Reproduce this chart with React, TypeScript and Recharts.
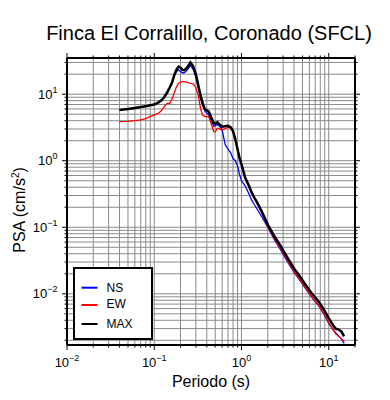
import React from 'react';
import { LineChart, Line, XAxis, YAxis, CartesianGrid, Legend } from 'recharts';

const periods = [0.04, 0.05, 0.06, 0.07, 0.08, 0.09, 0.1, 0.11, 0.12, 0.13, 0.14, 0.15, 0.16, 0.17, 0.18, 0.19, 0.2, 0.21, 0.22, 0.23, 0.24, 0.26, 0.28, 0.3, 0.32, 0.34, 0.36, 0.38, 0.4, 0.42, 0.45, 0.48, 0.5, 0.53, 0.56, 0.6, 0.65, 0.7, 0.75, 0.8, 0.85, 0.9, 0.95, 1.0, 1.1, 1.2, 1.3, 1.4, 1.5, 1.7, 2.0, 2.4, 2.8, 3.0, 3.5, 4.0, 4.5, 5.0, 6.0, 7.0, 7.5, 8.0, 9.0, 10, 11, 12, 13, 14, 15];

const maxValues = [5.8, 6.0, 6.2, 6.4, 6.6, 6.8, 7.0, 7.4, 8.0, 9.0, 10.5, 12.5, 15, 19.5, 23.5, 26, 25, 23.2, 23, 24, 25.5, 30, 26, 20, 13.5, 9.5, 7.2, 6.0, 5.7, 5.5, 4.5, 3.7, 3.6, 3.8, 3.5, 3.25, 3.3, 3.35, 3.2, 2.8, 2.1, 1.5, 1.1, 0.88, 0.56, 0.44, 0.34, 0.28, 0.24, 0.175, 0.11, 0.072, 0.053, 0.045, 0.032, 0.024, 0.0195, 0.016, 0.0113, 0.0088, 0.0079, 0.007, 0.0055, 0.0043, 0.0035, 0.003, 0.0029, 0.0027, 0.0023];

const ewValues = [3.87, 3.9, 4.0, 4.1, 4.3, 4.6, 4.9, 5.1, 5.6, 6.5, 7.3, 7.3, 8.5, 10.5, 13, 14.6, 15.2, 15.5, 15.5, 15.3, 15, 14.6, 14.3, 12.5, 9.5, 6.0, 4.8, 4.6, 4.6, 4.6, 3.6, 2.75, 2.7, 3.1, 3.0, 2.9, 3.0, 3.2, 3.1, 2.7, 2.05, 1.45, 1.07, 0.85, 0.54, 0.42, 0.33, 0.27, 0.23, 0.165, 0.104, 0.066, 0.048, 0.041, 0.029, 0.0215, 0.0175, 0.0143, 0.0101, 0.0078, 0.007, 0.0062, 0.0048, 0.0037, 0.003, 0.0025, 0.0023, 0.0021, 0.0019];

const nsValues = [5.8, 6.0, 6.2, 6.4, 6.6, 6.8, 7.0, 7.4, 8.0, 9.0, 10.5, 12.5, 15, 19, 22, 23, 22, 21, 21, 22, 23.5, 27, 23.5, 18, 12.5, 8.5, 6.8, 5.6, 5.2, 4.9, 4.0, 3.3, 3.35, 3.5, 3.3, 2.9, 1.75, 1.5, 1.33, 1.08, 1.0, 0.84, 0.62, 0.5, 0.42, 0.33, 0.26, 0.22, 0.19, 0.145, 0.1, 0.064, 0.046, 0.039, 0.028, 0.021, 0.017, 0.014, 0.0099, 0.0076, 0.0069, 0.0061, 0.0047, 0.0036, 0.003, 0.0026, 0.0023, 0.0021, 0.0018];

const xTicks = [0.01, 0.02, 0.03, 0.04, 0.05, 0.06, 0.07, 0.08, 0.09, 0.1, 0.2, 0.3, 0.4, 0.5, 0.6, 0.7, 0.8, 0.9, 1, 2, 3, 4, 5, 6, 7, 8, 9, 10, 20];
const yTicks = [0.002, 0.003, 0.004, 0.005, 0.006, 0.007, 0.008, 0.009, 0.01, 0.02, 0.03, 0.04, 0.05, 0.06, 0.07, 0.08, 0.09, 0.1, 0.2, 0.3, 0.4, 0.5, 0.6, 0.7, 0.8, 0.9, 1, 2, 3, 4, 5, 6, 7, 8, 9, 10, 20, 30];
const majorTicks = [0.01, 0.1, 1, 10];
const majorExponents = ['\u22122', '\u22121', '0', '1'];

const seriesNames = ['NS', 'EW', 'MAX'];
const seriesColors = ['#0000ff', '#ff0000', '#000000'];

const data = periods.map((p, i) => ({ period: p, ns: nsValues[i], ew: ewValues[i], max: maxValues[i] }));

const FONT = '"Liberation Sans", Arial, Helvetica, sans-serif';

const majorIndex = (v: number) => majorTicks.findIndex((m) => Math.abs(v / m - 1) < 1e-6);

const TickLabel = ({ x, y, idx, anchor }: any) => (
  <text x={x} y={y} textAnchor={anchor} fontSize={13} fontFamily={FONT} fill="#000">
    <tspan>10</tspan>
    <tspan dy={-6} fontSize={9}>{majorExponents[idx]}</tspan>
  </text>
);

const PLOT_LEFT = 67;
const PLOT_RIGHT = 355;
const PLOT_TOP = 58;
const PLOT_BOTTOM = 345;

const BottomTick = (props: any) => {
  const { x, payload } = props;
  const y = PLOT_BOTTOM;
  const idx = majorIndex(payload.value);
  const len = idx >= 0 ? 5 : 2.5;
  return (
    <g>
      <line x1={x} y1={y} x2={x} y2={y + len} stroke="#000" strokeWidth={1} />
      {idx >= 0 && <TickLabel x={x} y={y + 21.7} idx={idx} anchor="middle" />}
    </g>
  );
};

const TopTick = (props: any) => {
  const { x, payload } = props;
  const y = PLOT_TOP;
  const idx = majorIndex(payload.value);
  const len = idx >= 0 ? 5 : 2.5;
  return <line x1={x} y1={y} x2={x} y2={y - len} stroke="#000" strokeWidth={1} />;
};

const LeftTick = (props: any) => {
  const { y, payload } = props;
  const x = PLOT_LEFT;
  const idx = majorIndex(payload.value);
  const len = idx >= 0 ? 5 : 2.5;
  return (
    <g>
      <line x1={x} y1={y} x2={x - len} y2={y} stroke="#000" strokeWidth={1} />
      {idx >= 0 && <TickLabel x={x - 9.5} y={y + 4.7} idx={idx} anchor="end" />}
    </g>
  );
};

const RightTick = (props: any) => {
  const { y, payload } = props;
  const x = PLOT_RIGHT;
  const idx = majorIndex(payload.value);
  const len = idx >= 0 ? 5 : 2.5;
  return <line x1={x} y1={y} x2={x + len} y2={y} stroke="#000" strokeWidth={1} />;
};

const renderLegend = () => {
  const lineY = [20.7, 38, 57];
  const textY = [25.3, 41.3, 60.7];
  return (
    <svg width={80} height={73} style={{ display: 'block' }}>
      <rect x={1} y={1} width={78} height={71} fill="#fff" stroke="#000" strokeWidth={2} />
      {seriesNames.map((n, i) => (
        <g key={n}>
          <line x1={8.5} x2={24.5} y1={lineY[i]} y2={lineY[i]} stroke={seriesColors[i]} strokeWidth={2} />
          <text x={33.5} y={textY[i]} fontSize={12} fontFamily={FONT} fill="#000">{n}</text>
        </g>
      ))}
    </svg>
  );
};

export default function App() {
  return (
    <div style={{ position: 'absolute', left: 0, top: 0, width: 390, height: 400, background: '#fff', fontFamily: FONT }}>
      <div style={{ position: 'absolute', left: 9, top: 23, width: 400, textAlign: 'center', fontSize: 20, lineHeight: '20px', color: '#000' }}>
        Finca El Corralillo, Coronado (SFCL)
      </div>
      <LineChart width={390} height={400} data={data} margin={{ top: 48, right: 25, bottom: 45, left: 57 }}>
        <CartesianGrid stroke="#8a8a8a" strokeWidth={1} horizontal vertical />
        <XAxis
          dataKey="period"
          type="number"
          scale="log"
          domain={[0.01, 20]}
          allowDataOverflow
          ticks={xTicks}
          interval={0}
          height={10}
          tickSize={0}
          tickMargin={0}
          tickLine={false}
          tick={<BottomTick />}
          axisLine={{ stroke: '#000', strokeWidth: 2 }}
        />
        <XAxis
          xAxisId="top"
          orientation="top"
          dataKey="period"
          type="number"
          scale="log"
          domain={[0.01, 20]}
          allowDataOverflow
          ticks={xTicks}
          interval={0}
          height={10}
          tickSize={0}
          tickMargin={0}
          tickLine={false}
          tick={<TopTick />}
          axisLine={{ stroke: '#000', strokeWidth: 2 }}
        />
        <YAxis
          type="number"
          scale="log"
          domain={[0.0017, 35]}
          allowDataOverflow
          ticks={yTicks}
          interval={0}
          width={10}
          tickSize={0}
          tickMargin={0}
          tickLine={false}
          tick={<LeftTick />}
          axisLine={{ stroke: '#000', strokeWidth: 2 }}
        />
        <YAxis
          yAxisId="right"
          orientation="right"
          type="number"
          scale="log"
          domain={[0.0017, 35]}
          allowDataOverflow
          ticks={yTicks}
          interval={0}
          width={10}
          tickSize={0}
          tickMargin={0}
          tickLine={false}
          tick={<RightTick />}
          axisLine={{ stroke: '#000', strokeWidth: 2 }}
        />
        <Line dataKey="ns" name="NS" stroke={seriesColors[0]} strokeWidth={1.3} dot={false} isAnimationActive={false} type="linear" />
        <Line dataKey="ew" name="EW" stroke={seriesColors[1]} strokeWidth={1.3} dot={false} isAnimationActive={false} type="linear" />
        <Line dataKey="max" name="MAX" stroke={seriesColors[2]} strokeWidth={2.5} dot={false} isAnimationActive={false} type="linear" />
        <Legend
          layout="vertical"
          align="center"
          verticalAlign="middle"
          content={renderLegend}
          wrapperStyle={{ left: 73, top: 267, width: 80, height: 73 }}
        />
      </LineChart>
      <div style={{ position: 'absolute', left: 0, top: 374, width: 422, textAlign: 'center', fontSize: 16, lineHeight: '16px', color: '#000' }}>
        Periodo (s)
      </div>
      <svg style={{ position: 'absolute', left: 0, top: 0, pointerEvents: 'none' }} width={40} height={400}>
        <text transform="translate(24.5,210) rotate(-90)" textAnchor="middle" fontSize={16} fontFamily={FONT} fill="#000">
          <tspan>PSA (cm/s</tspan>
          <tspan dy={-6} fontSize={10}>2</tspan>
          <tspan dy={6}>)</tspan>
        </text>
      </svg>
    </div>
  );
}
